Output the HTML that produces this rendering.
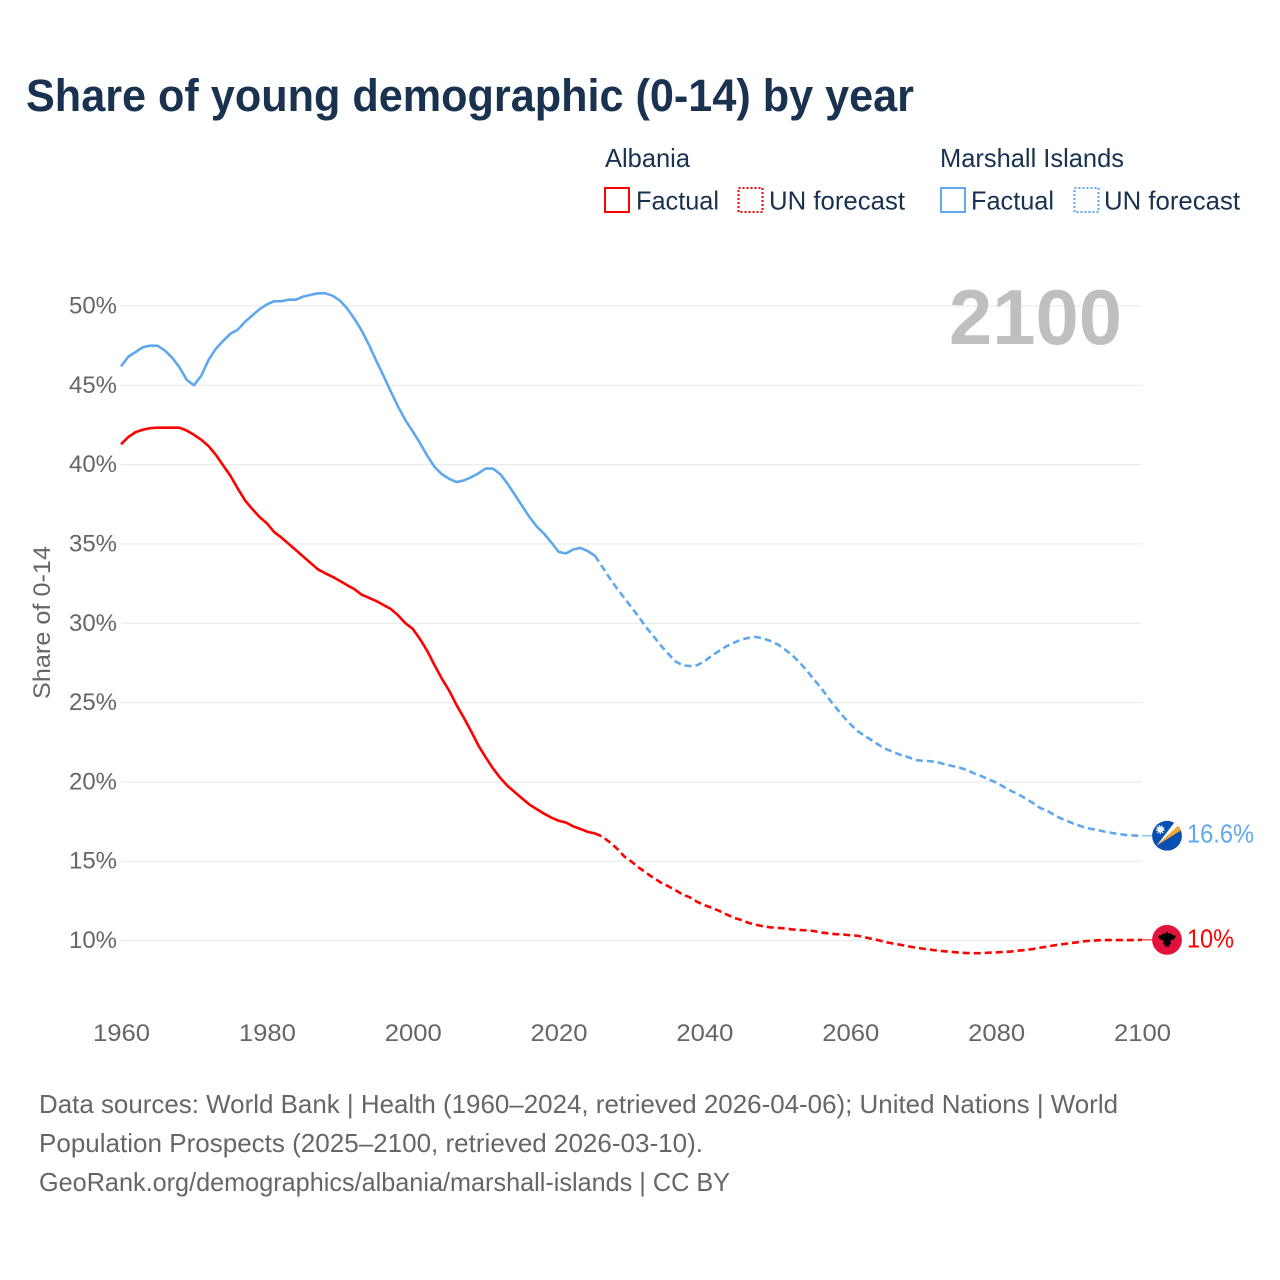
<!DOCTYPE html>
<html lang="en">
<head>
<meta charset="utf-8">
<title>Share of young demographic (0-14) by year</title>
<style>
  html, body { margin: 0; padding: 0; background: #fff; }
  svg { display: block; font-family: "Liberation Sans", sans-serif; }
</style>
</head>
<body>
<svg id="chart" xmlns="http://www.w3.org/2000/svg" width="1280" height="1280" viewBox="0 0 1280 1280">
  <rect x="0" y="0" width="1280" height="1280" fill="#ffffff"/>
  <text x="26" y="111" font-size="45" font-weight="700" fill="#18324f" textLength="888" lengthAdjust="spacingAndGlyphs">Share of young demographic (0-14) by year</text>

  <g>
    <text x="605" y="167" font-size="26" fill="#18324f" textLength="85" lengthAdjust="spacingAndGlyphs">Albania</text>
    <rect x="605" y="188" width="24" height="24" fill="none" stroke="#ff0000" stroke-width="2"/>
    <text x="636" y="209.5" font-size="26" fill="#18324f" textLength="83" lengthAdjust="spacingAndGlyphs">Factual</text>
    <rect x="738.5" y="188" width="24" height="24" fill="none" stroke="#ff0000" stroke-width="2" stroke-dasharray="2 2"/>
    <text x="769" y="209.5" font-size="26" fill="#18324f" textLength="136" lengthAdjust="spacingAndGlyphs">UN forecast</text>
  </g>
  <g>
    <text x="940" y="167" font-size="26" fill="#18324f" textLength="184" lengthAdjust="spacingAndGlyphs">Marshall Islands</text>
    <rect x="941" y="188" width="24" height="24" fill="none" stroke="#5fa8ee" stroke-width="2"/>
    <text x="971" y="209.5" font-size="26" fill="#18324f" textLength="83" lengthAdjust="spacingAndGlyphs">Factual</text>
    <rect x="1074.5" y="188" width="24" height="24" fill="none" stroke="#5fa8ee" stroke-width="2" stroke-dasharray="2 2"/>
    <text x="1104" y="209.5" font-size="26" fill="#18324f" textLength="136" lengthAdjust="spacingAndGlyphs">UN forecast</text>
  </g>

  <g id="grid"></g>
  <g id="y-ticks"></g>
  <g id="x-ticks"></g>
  <text transform="translate(50 699) rotate(-90)" x="0" y="0" font-size="24" fill="#666666" textLength="153" lengthAdjust="spacingAndGlyphs">Share of 0-14</text>
  <text x="949" y="344" font-size="78" font-weight="700" fill="#bfbfbf" textLength="173" lengthAdjust="spacingAndGlyphs">2100</text>

  <g id="series"></g>

  <defs>
    <clipPath id="flag-clip"><circle cx="0" cy="0" r="15"/></clipPath>
  </defs>
  <g id="flag-marshall" clip-path="url(#flag-clip)">
    <circle cx="0" cy="0" r="15" fill="#0a50b2"/>
    <polygon points="-10.5,10 8,-14 12.3,-11" fill="#ffffff"/>
    <polygon points="-10.5,10 12.3,-11 15,-6" fill="#f8a62c"/>
    <circle cx="-6.7" cy="-6.3" r="3" fill="#ffffff"/>
    <circle cx="-6.7" cy="-6.3" r="3.7" fill="none" stroke="#ffffff" stroke-width="1.4" stroke-dasharray="1.3 1.3"/>
  </g>
  <g id="flag-albania" clip-path="url(#flag-clip)">
    <circle cx="0" cy="0" r="15" fill="#e2123c"/>
    <path d="M-9,-4 L-5,-5 L-4,-7 L-2,-5.5 L-1,-8 L1,-8 L2,-5.5 L4,-7 L5,-5 L9,-4 L7,-0.5 L4.5,0 L3,2 L4.5,4 L2.5,4.5 L2,7 L0.5,6 L0,8.5 L-0.5,6 L-2,7 L-2.5,4.5 L-4.5,4 L-3,2 L-4.5,0 L-7,-0.5 Z" fill="#000000"/>
  </g>
  <text id="label-marshall" x="1187" y="842" font-size="26" fill="#5fa8ee" textLength="67" lengthAdjust="spacingAndGlyphs"></text>
  <text id="label-albania" x="1187" y="947" font-size="26" fill="#ff0000" textLength="47" lengthAdjust="spacingAndGlyphs"></text>

  <g font-size="26" fill="#666666">
    <text x="39" y="1113" textLength="1079" lengthAdjust="spacingAndGlyphs">Data sources: World Bank | Health (1960–2024, retrieved 2026-04-06); United Nations | World</text>
    <text x="39" y="1152" textLength="664" lengthAdjust="spacingAndGlyphs">Population Prospects (2025–2100, retrieved 2026-03-10).</text>
    <text x="39" y="1191" textLength="691" lengthAdjust="spacingAndGlyphs">GeoRank.org/demographics/albania/marshall-islands | CC BY</text>
  </g>
</svg>
<script>
var firstYear = 1960;
var lastFactualYear = 2025;
var lastYear = 2100;
var xTickLabels = [1960, 1980, 2000, 2020, 2040, 2060, 2080, 2100];
var yTickLabels = [10, 15, 20, 25, 30, 35, 40, 45, 50];

var albaniaValues = [
  41.28, 41.74, 42.05, 42.2, 42.3, 42.33, 42.33, 42.33, 42.33, 42.15,
  41.88, 41.57, 41.17, 40.62, 39.95, 39.3, 38.5, 37.75, 37.2, 36.7,
  36.3, 35.75, 35.4, 35.0, 34.6, 34.2, 33.8, 33.4, 33.15, 32.93,
  32.67, 32.4, 32.15, 31.8, 31.6, 31.4, 31.15, 30.9, 30.5, 30.0,
  29.65, 29.0, 28.25, 27.35, 26.5, 25.75, 24.85, 24.05, 23.2, 22.3,
  21.55, 20.85, 20.25, 19.75, 19.35, 18.95, 18.57, 18.28, 18.0, 17.75,
  17.55, 17.44, 17.2, 17.03, 16.85, 16.75, 16.55, 16.2, 15.8, 15.3,
  14.97, 14.6, 14.27, 13.95, 13.66, 13.43, 13.18, 12.9, 12.72, 12.44,
  12.23, 12.06, 11.87, 11.65, 11.44, 11.3, 11.12, 11.0, 10.9, 10.83,
  10.8, 10.76, 10.7, 10.66, 10.64, 10.6, 10.5, 10.45, 10.4, 10.38,
  10.33, 10.3, 10.2, 10.1, 10.0, 9.88, 9.8, 9.72, 9.63, 9.55,
  9.48, 9.42, 9.36, 9.32, 9.28, 9.23, 9.21, 9.2, 9.2, 9.23,
  9.25, 9.28, 9.3, 9.36, 9.4, 9.46, 9.55, 9.61, 9.7, 9.76,
  9.82, 9.88, 9.95, 9.99, 10.01, 10.03, 10.03, 10.03, 10.03, 10.03, 10.04
];

var marshallValues = [
  46.2, 46.8, 47.1, 47.4, 47.5, 47.5, 47.2, 46.75, 46.15, 45.35,
  45.0, 45.6, 46.6, 47.3, 47.8, 48.25, 48.5, 49.0, 49.4, 49.8,
  50.1, 50.3, 50.3, 50.4, 50.4, 50.6, 50.7, 50.8, 50.8, 50.65,
  50.35, 49.85, 49.2, 48.45, 47.55, 46.55, 45.6, 44.6, 43.65, 42.8,
  42.1, 41.35, 40.55, 39.85, 39.4, 39.1, 38.9, 39.0, 39.2, 39.45,
  39.75, 39.75, 39.4, 38.8, 38.1, 37.4, 36.7, 36.1, 35.65, 35.1,
  34.5, 34.4, 34.65, 34.75, 34.55, 34.25, 33.55, 32.85, 32.2, 31.6,
  31.0, 30.4, 29.75, 29.2, 28.6, 28.1, 27.6, 27.35, 27.3, 27.35,
  27.6, 27.95, 28.25, 28.55, 28.76, 28.97, 29.07, 29.14, 29.05, 28.89,
  28.68, 28.36, 28.0, 27.56, 27.04, 26.46, 25.93, 25.28, 24.7, 24.14,
  23.64, 23.2, 22.9, 22.6, 22.3, 22.05, 21.87, 21.68, 21.55, 21.37,
  21.33, 21.3, 21.24, 21.1, 21.0, 20.9, 20.75, 20.53, 20.36, 20.15,
  19.96, 19.7, 19.44, 19.23, 18.96, 18.68, 18.36, 18.18, 17.9, 17.67,
  17.48, 17.3, 17.15, 17.04, 16.96, 16.85, 16.77, 16.7, 16.64, 16.62, 16.6
];

var SVG_NS = 'http://www.w3.org/2000/svg';

function xScale(year) {
  return 121 + (year - 1960) * (1142 - 121) / 140;
}
function yScale(value) {
  return 940.5 - (value - 10) * (940.5 - 306) / 40;
}
function buildPath(values, fromYear, toYear) {
  var d = '';
  for (var year = fromYear; year <= toYear; year++) {
    var v = values[year - firstYear];
    d += (d ? 'L' : 'M') + xScale(year).toFixed(2) + ' ' + yScale(v).toFixed(2);
  }
  return d;
}
function formatPercent(value) {
  return String(Math.round(value * 10) / 10) + '%';
}

var gridGroup = document.getElementById('grid');
var yTickGroup = document.getElementById('y-ticks');
var xTickGroup = document.getElementById('x-ticks');
var seriesGroup = document.getElementById('series');

yTickLabels.forEach(function (tick) {
  var line = document.createElementNS(SVG_NS, 'line');
  
  
  line.setAttribute('x1', xScale(firstYear));
  line.setAttribute('x2', xScale(lastYear));
  line.setAttribute('y1', yScale(tick));
  line.setAttribute('y2', yScale(tick));
  line.setAttribute('stroke', '#ebebeb');
  line.setAttribute('stroke-width', '1.2');
  gridGroup.appendChild(line);

  var label = document.createElementNS(SVG_NS, 'text');
  
  
  label.setAttribute('x', 69);
  label.setAttribute('y', yScale(tick) + 7.5);
  label.setAttribute('font-size', '24');
  label.setAttribute('fill', '#666666');
  label.setAttribute('textLength', '48');
  label.setAttribute('lengthAdjust', 'spacingAndGlyphs');
  label.textContent = tick + '%';
  yTickGroup.appendChild(label);
});

xTickLabels.forEach(function (tick) {
  var label = document.createElementNS(SVG_NS, 'text');
  
  
  label.setAttribute('x', xScale(tick) - 28);
  label.setAttribute('y', 1041);
  label.setAttribute('font-size', '24');
  label.setAttribute('fill', '#666666');
  label.setAttribute('textLength', '57');
  label.setAttribute('lengthAdjust', 'spacingAndGlyphs');
  label.textContent = tick;
  xTickGroup.appendChild(label);
});

function drawSeries(values, color, key) {
  var factual = document.createElementNS(SVG_NS, 'path');
  
  
  factual.setAttribute('d', buildPath(values, firstYear, lastFactualYear));
  factual.setAttribute('fill', 'none');
  factual.setAttribute('stroke', color);
  factual.setAttribute('stroke-width', '2.6');
  factual.setAttribute('stroke-linejoin', 'round');
  seriesGroup.appendChild(factual);

  var forecast = document.createElementNS(SVG_NS, 'path');
  
  
  forecast.setAttribute('d', buildPath(values, lastFactualYear, lastYear));
  forecast.setAttribute('fill', 'none');
  forecast.setAttribute('stroke', color);
  forecast.setAttribute('stroke-width', '2.6');
  forecast.setAttribute('stroke-dasharray', '7 4');
  seriesGroup.appendChild(forecast);

  var endY = yScale(values[lastYear - firstYear]);
  var connector = document.createElementNS(SVG_NS, 'line');
  
  
  connector.setAttribute('x1', xScale(lastYear));
  connector.setAttribute('x2', 1153);
  connector.setAttribute('y1', endY);
  connector.setAttribute('y2', endY);
  connector.setAttribute('stroke', color);
  connector.setAttribute('stroke-width', '1');
  seriesGroup.appendChild(connector);
  return endY;
}

var marshallEndY = drawSeries(marshallValues, '#5fa8ee', 'marshall-islands');
var albaniaEndY = drawSeries(albaniaValues, '#ff0000', 'albania');

document.getElementById('flag-marshall').setAttribute('transform', 'translate(1167 ' + marshallEndY + ')');
document.getElementById('flag-albania').setAttribute('transform', 'translate(1167 ' + albaniaEndY + ')');

var marshallLabel = document.getElementById('label-marshall');
marshallLabel.setAttribute('y', marshallEndY + 6.5);
marshallLabel.textContent = formatPercent(marshallValues[lastYear - firstYear]);

var albaniaLabel = document.getElementById('label-albania');
albaniaLabel.setAttribute('y', albaniaEndY + 7.5);
albaniaLabel.textContent = formatPercent(albaniaValues[lastYear - firstYear]);
</script>
</body>
</html>
